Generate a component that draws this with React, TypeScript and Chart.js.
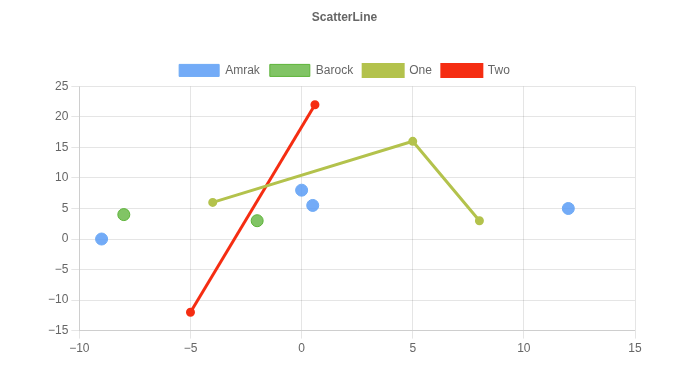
import React, { useEffect, useRef } from "react";
import { Chart, registerables } from "chart.js";

Chart.register(...registerables);

const amrakX = [-9, 0, 0.5, 12];
const amrakY = [0, 8, 5.5, 5];
const barockX = [-8, -2];
const barockY = [4, 3];
const oneX = [-4, 5, 8];
const oneY = [6, 16, 3];
const twoX = [-5, 0.6];
const twoY = [-12, 22];

const zip = (xs: number[], ys: number[]) => xs.map((x, i) => ({ x, y: ys[i] }));
const fmt = (v: number | string) => String(v).replace("-", "\u2212");

export default function App() {
  const ref = useRef<HTMLCanvasElement>(null);
  useEffect(() => {
    if (!ref.current) return;
    Chart.defaults.font.family = "'Liberation Sans', Arial, sans-serif";
    Chart.defaults.font.size = 12;
    Chart.defaults.color = "#666";
    const chart = new Chart(ref.current, {
      type: "scatter",
      data: {
        datasets: [
          {
            label: "Amrak",
            data: zip(amrakX, amrakY),
            backgroundColor: "rgba(84,152,245,0.82)",
            borderColor: "rgba(110,170,245,1)",
            borderWidth: 1,
            pointRadius: 6,
          },
          {
            label: "Barock",
            data: zip(barockX, barockY),
            backgroundColor: "rgba(112,188,80,0.88)",
            borderColor: "#5cb338",
            borderWidth: 1,
            pointRadius: 6,
          },
          {
            label: "One",
            data: zip(oneX, oneY),
            showLine: true,
            backgroundColor: "#b3c24c",
            borderColor: "#b3c24c",
            borderWidth: 3,
            pointRadius: 3,
          },
          {
            label: "Two",
            data: zip(twoX, twoY),
            showLine: true,
            backgroundColor: "#f52d12",
            borderColor: "#f52d12",
            borderWidth: 3,
            pointRadius: 3,
          },
        ],
      },
      options: {
        animation: false,
        responsive: true,
        maintainAspectRatio: false,
        layout: { padding: { left: 37, right: 40, top: 0, bottom: 8 } },
        plugins: {
          title: {
            display: true,
            text: "ScatterLine",
            font: { size: 12, weight: "bold" },
            padding: { top: 2, bottom: 30 },
          },
          legend: {
            labels: { boxWidth: 40, font: { size: 12 } },
          },
        },
        scales: {
          x: {
            type: "linear",
            min: -10,
            max: 15,
            ticks: { stepSize: 5, callback: (v: any) => fmt(v) },
            grid: { color: "rgba(0,0,0,0.1)" },
          },
          y: {
            min: -15,
            max: 25,
            ticks: { stepSize: 5, callback: (v: any) => fmt(v) },
            grid: { color: "rgba(0,0,0,0.1)" },
          },
          yRight: {
            position: "right",
            display: true,
            grid: { display: false },
            border: { display: false },
            ticks: { display: false },
            afterFit: (s: any) => {
              s.width = 9;
            },
          },
        },
      },
    });
    return () => chart.destroy();
  }, []);
  return (
    <div style={{ width: 676, height: 359 }}>
      <canvas ref={ref} />
    </div>
  );
}
